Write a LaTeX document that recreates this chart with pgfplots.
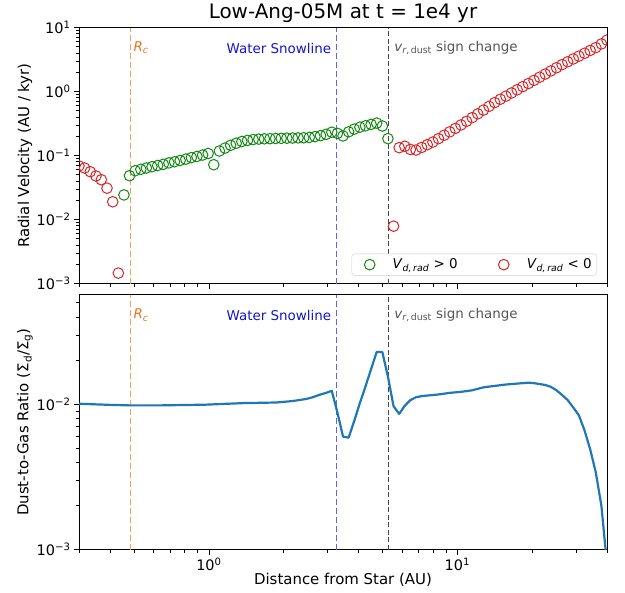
\documentclass[border=0pt]{standalone}
\usepackage{fontspec}
\setmainfont{DejaVu Sans}
\usepackage{pgfplots}
\pgfplotsset{compat=1.18}
\definecolor{tabblue}{RGB}{31,119,180}
\definecolor{mgreen}{RGB}{20,135,20}
\definecolor{mred}{RGB}{214,39,40}
\definecolor{rcline}{RGB}{242,160,90}
\definecolor{rctext}{RGB}{222,120,30}
\definecolor{snline}{RGB}{100,100,225}
\definecolor{sntext}{RGB}{20,20,200}
\definecolor{scline}{RGB}{70,70,70}
\definecolor{sctext}{RGB}{85,85,85}
\definecolor{legframe}{RGB}{204,204,204}

\pgfplotstableread{
x y
0.455 0.0243
0.479 0.0485
0.505 0.058
0.532 0.061
0.560 0.064
0.590 0.067
0.622 0.070
0.655 0.073
0.690 0.077
0.727 0.080
0.766 0.084
0.807 0.088
0.850 0.093
0.895 0.097
0.943 0.102
0.993 0.108
1.046 0.072
1.102 0.118
1.161 0.131
1.223 0.145
1.288 0.156
1.357 0.166
1.430 0.173
1.506 0.178
1.587 0.181
1.672 0.183
1.761 0.184
1.855 0.185
1.954 0.186
2.059 0.187
2.169 0.188
2.285 0.189
2.407 0.190
2.535 0.192
2.671 0.198
2.813 0.205
2.964 0.215
3.122 0.232
3.289 0.222
3.465 0.203
3.650 0.235
3.845 0.259
4.050 0.278
4.267 0.292
4.495 0.307
4.735 0.322
4.988 0.290
5.254 0.184
}\greendata

\pgfplotstableread{
x y
0.300 0.069
0.316 0.064
0.333 0.056
0.351 0.048
0.369 0.042
0.389 0.031
0.410 0.019
0.432 0.00146
5.535 0.0079
5.831 0.133
6.142 0.140
6.470 0.125
6.816 0.122
7.180 0.134
7.564 0.148
7.968 0.163
8.394 0.184
8.842 0.208
9.315 0.235
9.813 0.266
10.34 0.301
10.89 0.343
11.47 0.392
12.08 0.449
12.73 0.514
13.41 0.588
14.13 0.673
14.88 0.759
15.68 0.849
16.52 0.952
17.40 1.066
18.33 1.195
19.31 1.337
20.34 1.499
21.43 1.679
22.57 1.880
23.78 2.104
25.05 2.357
26.38 2.636
27.80 2.924
29.28 3.238
30.84 3.583
32.50 3.970
34.23 4.395
36.06 4.864
37.99 5.56
40.00 6.38
}\reddata

\pgfplotstableread{
x y
0.300 0.0101
0.400 0.00992
0.482 0.00984
0.634 0.00984
0.967 0.00995
1.370 0.0102
1.870 0.0103
2.180 0.01055
2.470 0.0109
2.620 0.0112
2.813 0.0117
2.964 0.0120
3.122 0.0124
3.289 0.0088
3.465 0.0060
3.650 0.0059
3.845 0.0077
4.050 0.0102
4.267 0.0133
4.495 0.0175
4.735 0.0230
4.988 0.0229
5.254 0.0155
5.535 0.0097
5.831 0.0086
6.142 0.0098
6.470 0.0107
6.816 0.0112
7.180 0.0114
7.564 0.0115
8.394 0.0117
9.315 0.0120
10.34 0.0122
11.47 0.0125
12.73 0.0131
14.13 0.0134
15.68 0.0137
17.40 0.0139
19.31 0.0141
20.34 0.0140
21.43 0.0138
22.57 0.0136
23.78 0.0132
25.05 0.0125
26.38 0.0116
27.80 0.0107
29.28 0.0095
30.84 0.0084
32.50 0.0066
34.23 0.0049
36.06 0.0034
37.99 0.0020
39.40 0.00104
40.00 0.00076
}\ratiodata

\pgfplotsset{
  every axis/.append style={
    scale only axis, width=528bp, height=256bp,
    xmode=log, ymode=log, xmin=0.3, xmax=40,
    tick align=outside, tick pos=left,
    major tick length=5bp, minor tick length=3bp,
    every tick/.style={black, line width=0.8bp},
    axis line style={line width=0.8bp},
    tick label style={font=\fontsize{14.5}{16}\selectfont},
    label style={font=\fontsize{15}{18}\selectfont},
    xtick={1,10},
    minor xtick={0.3,0.4,0.5,0.6,0.7,0.8,0.9,2,3,4,5,6,7,8,9,20,30,40},
    ylabel style={at={(axis description cs:-0.1023,0.5)}, anchor=center},
    clip marker paths=true,
  },
  legmark/.style={legend image code/.code={\path[draw=none,fill=none] (0bp,-4bp) rectangle (36bp,4bp);\draw[##1, mark repeat=2, mark phase=2] plot coordinates {(0bp,0bp) (15bp,0bp) (36bp,0bp)};}},
}
\newcommand{\annfont}{\fontsize{13.5}{16}\selectfont}

\begin{document}
\begin{tikzpicture}
\begin{axis}[
  name=top,
  ymin=1e-3, ymax=10,
  xticklabels={},
  ytick={0.001,0.01,0.1,1,10},
  yticklabels={10\textsuperscript{−3},10\textsuperscript{−2},10\textsuperscript{−1},10\textsuperscript{0},10\textsuperscript{1}},
  minor ytick={0.002,0.003,0.004,0.005,0.006,0.007,0.008,0.009,0.02,0.03,0.04,0.05,0.06,0.07,0.08,0.09,0.2,0.3,0.4,0.5,0.6,0.7,0.8,0.9,2,3,4,5,6,7,8,9},
  ylabel={Radial Velocity (AU / kyr)},
  title={Low-Ang-05M at t = 1e4 yr},
  title style={font=\fontsize{20}{24}\selectfont, at={(axis description cs:0.5,1)}, anchor=base, yshift=3.5bp},
  legend columns=2,
  legend style={font=\annfont, at={(axis description cs:1,0)}, anchor=south east, xshift=-10bp, yshift=8bp,
    draw=legframe, rounded corners=3bp, inner xsep=3bp, inner ysep=3bp,
    /tikz/every even column/.append style={column sep=29bp}},
  legend cell align=left,
]
\addplot[forget plot, rcline, line width=1.5bp, dash pattern=on 6bp off 3bp] coordinates {(0.483,1e-3) (0.483,10)};
\addplot[forget plot, snline, line width=1.5bp, dash pattern=on 6bp off 3bp] coordinates {(3.26,1e-3) (3.26,10)};
\addplot[forget plot, scline, line width=0.9bp, dash pattern=on 5bp off 2.5bp] coordinates {(5.26,1e-3) (5.26,10)};
\addplot[only marks, legmark, mark=o, mark size=5.3bp, mgreen, mark options={line width=1bp}] table {\greendata};
\addlegendentry{\textit{V}\textsubscript{\textit{d,\,rad}} > 0}
\addplot[only marks, legmark, mark=o, mark size=5.3bp, mred, mark options={line width=1bp}] table {\reddata};
\addlegendentry{\textit{V}\textsubscript{\textit{d,\,rad}} < 0}
\node[anchor=west, inner sep=0pt, xshift=3bp, text=rctext, font=\annfont] at (axis cs:0.483,4.8) {\textit{R}\textsubscript{\textit{c}}};
\node[anchor=east, inner sep=0pt, xshift=-5bp, text=sntext, font=\annfont] at (axis cs:3.26,4.8) {Water Snowline};
\node[anchor=west, inner sep=0pt, xshift=6bp, text=sctext, font=\annfont] at (axis cs:5.26,4.8) {\textit{v}\textsubscript{\textit{r},\,dust} sign change};
\end{axis}

\begin{axis}[
  at={(top.south west)}, anchor=north west, yshift=-11bp,
  height=255bp,
  ymin=1e-3, ymax=0.057,
  xticklabels={10\textsuperscript{0},10\textsuperscript{1}},
  ytick={0.001,0.01},
  yticklabels={10\textsuperscript{−3},10\textsuperscript{−2}},
  minor ytick={0.002,0.003,0.004,0.005,0.006,0.007,0.008,0.009,0.02,0.03,0.04,0.05},
  ylabel={Dust-to-Gas Ratio (Σ\textsubscript{d}/Σ\textsubscript{g})},
  xlabel={Distance from Star (AU)},
  xlabel style={at={(axis description cs:0.5,0)}, anchor=center, yshift=-30bp},
]
\addplot[rcline, line width=1.5bp, dash pattern=on 6bp off 3bp] coordinates {(0.483,1e-3) (0.483,0.057)};
\addplot[snline, line width=1.5bp, dash pattern=on 6bp off 3bp] coordinates {(3.26,1e-3) (3.26,0.057)};
\addplot[scline, line width=0.9bp, dash pattern=on 5bp off 2.5bp] coordinates {(5.26,1e-3) (5.26,0.057)};
\addplot[tabblue, line width=2.2bp, line join=round] table {\ratiodata};
\node[anchor=west, inner sep=0pt, xshift=3bp, text=rctext, font=\annfont] at (axis cs:0.483,0.0411) {\textit{R}\textsubscript{\textit{c}}};
\node[anchor=east, inner sep=0pt, xshift=-5bp, text=sntext, font=\annfont] at (axis cs:3.26,0.0411) {Water Snowline};
\node[anchor=west, inner sep=0pt, xshift=6bp, text=sctext, font=\annfont] at (axis cs:5.26,0.0411) {\textit{v}\textsubscript{\textit{r},\,dust} sign change};
\end{axis}
\path ([xshift=-79bp,yshift=24bp]top.north west) rectangle ([xshift=546bp,yshift=-565bp]top.north west);
\end{tikzpicture}
\end{document}
